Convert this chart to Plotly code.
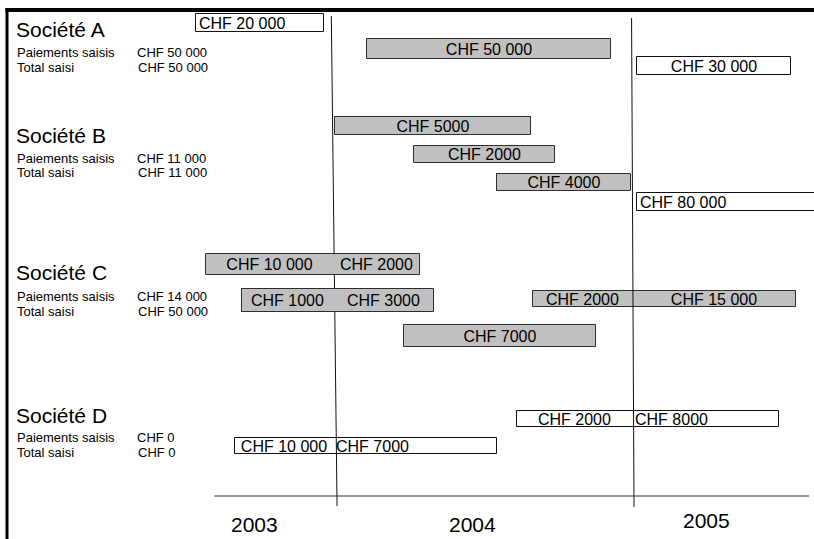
import plotly.graph_objects as go
import pandas as pd

# ---------------- DATA ----------------
companies = ["Société A", "Société B", "Société C", "Société D"]
paiements_saisis = ["CHF 50 000", "CHF 11 000", "CHF 14 000", "CHF 0"]
total_saisi = ["CHF 50 000", "CHF 11 000", "CHF 50 000", "CHF 0"]
year_labels = ["2003", "2004", "2005"]
year_label_dates = ["2003-09-27", "2004-06-19", "2005-04-02"]

# periods (boxes)
box_company = ["A", "A", "A", "B", "B", "B", "B", "C", "C", "C", "C", "D", "D"]
box_kind = ["saisi", "payé", "saisi", "payé", "payé", "payé", "saisi",
            "payé", "payé", "payé", "payé", "saisi", "saisi"]
box_start = ["2003-07-18", "2004-02-11", "2005-01-07", "2004-01-03", "2004-04-09",
             "2004-07-19", "2005-01-07", "2003-07-30", "2003-09-12", "2004-09-02",
             "2004-03-28", "2004-08-13", "2003-09-03"]
box_end = ["2003-12-21", "2004-12-06", "2005-07-14", "2004-08-30", "2004-09-29",
           "2004-12-30", "2005-09-30", "2004-04-16", "2004-05-04", "2005-07-20",
           "2004-11-18", "2005-06-29", "2004-07-19"]

# amounts per period and year
seg_box = [0, 1, 2, 3, 4, 5, 6, 7, 7, 8, 8, 9, 9, 10, 11, 11, 12, 12]
seg_start = ["2003-07-18", "2004-02-11", "2005-01-07", "2004-01-03", "2004-04-09",
             "2004-07-19", "2005-01-07", "2003-07-30", "2004-01-01", "2003-09-12",
             "2004-01-01", "2004-09-02", "2005-01-01", "2004-03-28", "2004-08-13",
             "2005-01-01", "2003-09-03", "2004-01-01"]
seg_end = ["2003-12-21", "2004-12-06", "2005-07-14", "2004-08-30", "2004-09-29",
           "2004-12-30", "2005-08-10", "2004-01-01", "2004-04-16", "2004-01-01",
           "2004-05-04", "2005-01-01", "2005-07-20", "2004-11-18", "2005-01-01",
           "2005-06-29", "2004-01-01", "2004-07-19"]
seg_label = ["CHF 20 000", "CHF 50 000", "CHF 30 000", "CHF 5000", "CHF 2000",
             "CHF 4000", "CHF 80 000", "CHF 10 000", "CHF 2000", "CHF 1000",
             "CHF 3000", "CHF 2000", "CHF 15 000", "CHF 7000", "CHF 2000",
             "CHF 8000", "CHF 10 000", "CHF 7000"]

# ---------------- LAYOUT / POSITIONS ----------------
W, H = 814, 539
x_range = ["2002-11-20", "2005-08-11"]
box_lane_y = [23, 49, 66, 126, 154.5, 182.5, 202, 264.5, 300.5, 299, 336, 419, 446]
box_height = [18, 20, 18, 18, 17, 17, 18, 21, 23, 16, 22, 16, 16]
box_on_top = [False] * 7 + [True, True] + [False] * 4
seg_anchor = ["start", "middle", "middle", "middle", "middle", "middle", "start",
              "middle", "middle", "middle", "middle", "middle", "middle", "middle",
              "middle", "start", "middle", "start"]
company_y = [29, 135, 272, 415]
paie_y = [52, 158, 296, 437]
total_y = [67, 172, 311, 452]
year_label_y = [524, 524, 520]
year_lines = [(["2003-12-30", "2004-01-06"], [16, 506]),
              (["2004-12-31", "2005-01-03"], [18, 507])]
axis_line = (["2003-08-09", "2005-08-05"], [496, 496])

FONT = "Arial, Liberation Sans, sans-serif"
GRAY = "#C0C0C0"

def dur_ms(s, e):
    return ((pd.to_datetime(pd.Series(e)) - pd.to_datetime(pd.Series(s)))
            .dt.total_seconds() * 1000).tolist()

fig = go.Figure()

def add_boxes(idx, zorder):
    fig.add_trace(go.Bar(
        orientation="h",
        y=[box_lane_y[i] for i in idx],
        base=[box_start[i] for i in idx],
        x=dur_ms([box_start[i] for i in idx], [box_end[i] for i in idx]),
        width=[box_height[i] for i in idx],
        marker=dict(color=[GRAY if box_kind[i] == "payé" else "rgba(255,255,255,0)" for i in idx],
                    line=dict(color=["#2e2e2e" if box_kind[i] == "payé" else "#111" for i in idx],
                              width=1)),
        hoverinfo="skip", showlegend=False, zorder=zorder))

add_boxes([i for i in range(len(box_start)) if not box_on_top[i]], 0)

for xs, ys in year_lines:
    fig.add_trace(go.Scatter(x=xs, y=ys, mode="lines", line=dict(color="#111", width=1),
                             hoverinfo="skip", showlegend=False, zorder=1))
fig.add_trace(go.Scatter(x=axis_line[0], y=axis_line[1], mode="lines",
                         line=dict(color="#333", width=1), hoverinfo="skip",
                         showlegend=False, zorder=1))

add_boxes([i for i in range(len(box_start)) if box_on_top[i]], 2)

for anchor in ["middle", "start"]:
    idx = [k for k in range(len(seg_label)) if seg_anchor[k] == anchor]
    fig.add_trace(go.Bar(
        orientation="h",
        y=[box_lane_y[seg_box[k]] for k in idx],
        base=[seg_start[k] for k in idx],
        x=dur_ms([seg_start[k] for k in idx], [seg_end[k] for k in idx]),
        width=[box_height[seg_box[k]] for k in idx],
        text=[seg_label[k] for k in idx],
        textposition="inside", insidetextanchor=anchor,
        constraintext="none", cliponaxis=False,
        textfont=dict(family=FONT, size=16, color="black"),
        marker=dict(color="rgba(0,0,0,0)", line=dict(width=0)),
        hoverinfo="skip", showlegend=False, zorder=3))

SMALL = 13
ann = []
for i, c in enumerate(companies):
    ann.append(dict(x=14 / W, xref="paper", y=company_y[i], yref="y", text=c,
                    xanchor="left", yanchor="middle", showarrow=False,
                    font=dict(family=FONT, size=21, color="black")))
    ann.append(dict(x=15 / W, xref="paper", y=paie_y[i], yref="y", text="Paiements saisis",
                    xanchor="left", yanchor="middle", showarrow=False,
                    font=dict(family=FONT, size=SMALL, color="black")))
    ann.append(dict(x=15 / W, xref="paper", y=total_y[i], yref="y", text="Total saisi",
                    xanchor="left", yanchor="middle", showarrow=False,
                    font=dict(family=FONT, size=SMALL, color="black")))
    ann.append(dict(x=135 / W, xref="paper", y=paie_y[i], yref="y", text=paiements_saisis[i],
                    xanchor="left", yanchor="middle", showarrow=False,
                    font=dict(family=FONT, size=SMALL, color="black")))
    ann.append(dict(x=136 / W, xref="paper", y=total_y[i], yref="y", text=total_saisi[i],
                    xanchor="left", yanchor="middle", showarrow=False,
                    font=dict(family=FONT, size=SMALL, color="black")))
for i, yl in enumerate(year_labels):
    ann.append(dict(x=year_label_dates[i], xref="x", y=year_label_y[i], yref="y", text=yl,
                    xanchor="center", yanchor="middle", showarrow=False,
                    font=dict(family=FONT, size=21, color="black")))

shapes = [
    dict(type="line", xref="paper", yref="paper", x0=7 / W, x1=7 / W,
         y0=0, y1=1 - 8 / H, line=dict(color="black", width=3)),
    dict(type="line", xref="paper", yref="paper", x0=5.5 / W, x1=1,
         y0=1 - 10 / H, y1=1 - 10 / H, line=dict(color="black", width=4)),
]

fig.update_layout(
    width=W, height=H, autosize=False,
    margin=dict(l=0, r=0, t=0, b=0, pad=0),
    paper_bgcolor="white", plot_bgcolor="white",
    barmode="overlay", bargap=0,
    xaxis=dict(type="date", range=x_range, visible=False, fixedrange=True),
    yaxis=dict(range=[H, 0], visible=False, fixedrange=True),
    annotations=ann, shapes=shapes, showlegend=False,
)

fig.write_html("out.html", config={"displayModeBar": False},
               post_script="document.body.style.margin='0';")
